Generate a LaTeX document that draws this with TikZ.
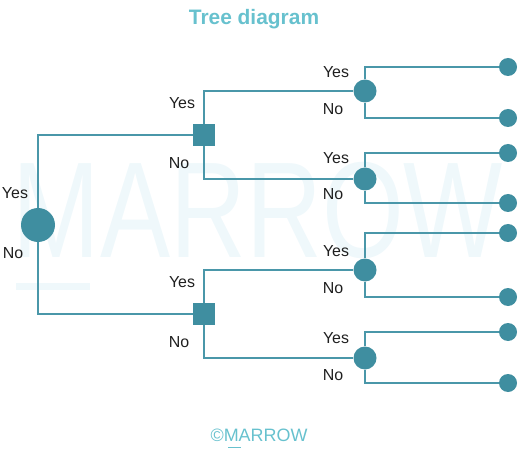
\documentclass[tikz,border=0pt]{standalone}
\usepackage{fontspec}
\setmainfont{Liberation Sans}
\definecolor{edgecol}{HTML}{4A97A9}
\definecolor{nodecol}{HTML}{3F8EA0}
\definecolor{titlecol}{HTML}{67C1CE}
\definecolor{wmcol}{HTML}{EFF8FB}
\begin{document}
\begin{tikzpicture}[x=1bp,y=-1bp,
  edge/.style={draw=edgecol,line width=2.6bp},
  rootnode/.style={circle,fill=nodecol,minimum size=34bp,inner sep=0pt},
  squarenode/.style={rectangle,fill=nodecol,minimum size=22bp,inner sep=0pt},
  midnode/.style={circle,fill=nodecol,minimum size=23bp,inner sep=0pt},
  leafnode/.style={circle,fill=nodecol,minimum size=18bp,inner sep=0pt},
  lbl/.style={font=\fontsize{16}{18}\selectfont,text=black!88,inner sep=0pt}]
\useasboundingbox (0,0) rectangle (521,459);
% watermark
\node[font=\fontsize{137}{137}\selectfont,text=wmcol,xscale=0.77,anchor=base,inner sep=0pt] (wm) at (258,258) {MARROW};
\fill[wmcol] (16,283) rectangle (90,290);
% title
\node[font=\bfseries\fontsize{21}{24}\selectfont,text=titlecol] (title) at (254,19) {Tree diagram};
% nodes
\node[rootnode] (root) at (38,225) {};
\node[squarenode] (s1) at (204,135) {};
\node[squarenode] (s2) at (204,314) {};
\node[midnode] (c1) at (365,91) {};
\node[midnode] (c2) at (365,179) {};
\node[midnode] (c3) at (365,270) {};
\node[midnode] (c4) at (365,358) {};
\node[leafnode] (l1) at (508,67) {};
\node[leafnode] (l2) at (508,118) {};
\node[leafnode] (l3) at (508,153) {};
\node[leafnode] (l4) at (508,203) {};
\node[leafnode] (l5) at (508,233) {};
\node[leafnode] (l6) at (508,297) {};
\node[leafnode] (l7) at (508,332) {};
\node[leafnode] (l8) at (508,383) {};
% connectors
\draw[edge] (root) |- (s1);
\draw[edge] (root) |- (s2);
\draw[edge] (s1) |- (c1);
\draw[edge] (s1) |- (c2);
\draw[edge] (s2) |- (c3);
\draw[edge] (s2) |- (c4);
\draw[edge] (c1) |- (l1);
\draw[edge] (c1) |- (l2);
\draw[edge] (c2) |- (l3);
\draw[edge] (c2) |- (l4);
\draw[edge] (c3) |- (l5);
\draw[edge] (c3) |- (l6);
\draw[edge] (c4) |- (l7);
\draw[edge] (c4) |- (l8);
% labels
\node[lbl] (ry) at (15,193) {Yes};
\node[lbl] (rn) at (13,253) {No};
\node[lbl] (s1y) at (182,103) {Yes};
\node[lbl] (s1n) at (179,163) {No};
\node[lbl] (s2y) at (182,282) {Yes};
\node[lbl] (s2n) at (179,342) {No};
\node[lbl] (c1y) at (336,72) {Yes};
\node[lbl] (c1n) at (333,109) {No};
\node[lbl] (c2y) at (336,158) {Yes};
\node[lbl] (c2n) at (333,194) {No};
\node[lbl] (c3y) at (336,251) {Yes};
\node[lbl] (c3n) at (333,288) {No};
\node[lbl] (c4y) at (336,338) {Yes};
\node[lbl] (c4n) at (333,375) {No};
% footer
\node[font=\fontsize{18}{20}\selectfont,text=titlecol,inner sep=0pt] (foot) at (259,435) {©MARROW};
\fill[titlecol] (228,446.5) rectangle (241,448);
\end{tikzpicture}
\end{document}
